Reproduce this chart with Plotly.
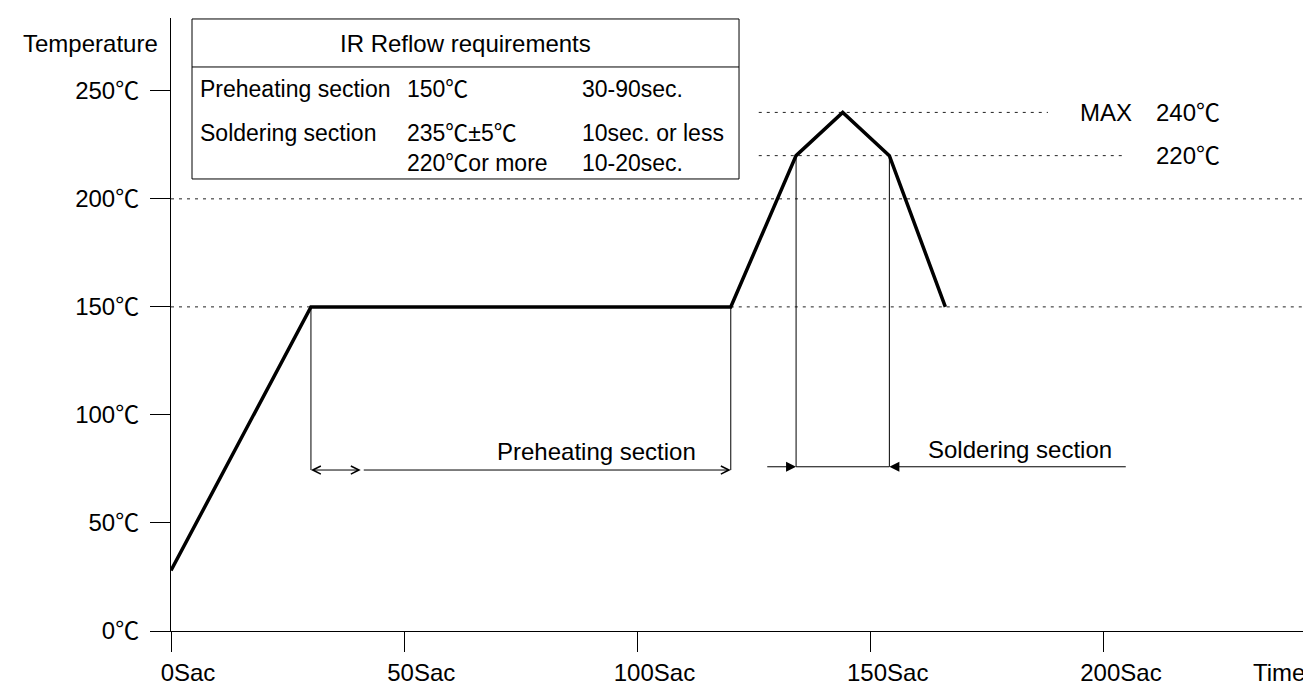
import plotly.graph_objects as go

# ---------------- data ----------------
# reflow temperature profile (time in s, temperature in deg C)
time_s = [0, 30, 120, 134, 144, 154, 166]
temp_c = [28, 150, 150, 220, 240, 220, 150]

# axis ticks
x_tickvals = [0, 50, 100, 150, 200]
x_ticktext = ["0Sac", "50Sac", "100Sac", "150Sac", "200Sac"]
y_tickvals = [0, 50, 100, 150, 200, 250]
y_ticktext = ["0℃", "50℃", "100℃", "150℃", "200℃", "250℃"]

# dotted guide lines: level, start time, end time
guide_level = [150, 150, 200, 220, 240]
guide_start = [0, 120, 0, 126, 126]
guide_end = [30, 246, 246, 204, 188]

# section markers
preheat_bounds = [30, 120]
preheat_inner = 41
preheat_level = 74.5
solder_bounds = [134, 154]
solder_tails = [127.5, 205]
solder_level = 76

# right-side labels
max_label = "MAX"
peak_label = "240℃"
limit_label = "220℃"

# requirements table
table_title = "IR Reflow requirements"
table_col1 = ["Preheating section", "Soldering section"]
table_col2 = ["150℃", "235℃±5℃<br>220℃or more"]
table_col3 = ["30-90sec.", "10sec. or less<br>10-20sec."]

FONT = "Liberation Sans, Arial, Helvetica, Noto Sans CJK JP, sans-serif"
X_MAX = 246.1
Y_MAX = 283.7

fig = go.Figure()

# dotted guides
gx, gy = [], []
for lv, s, e in zip(guide_level, guide_start, guide_end):
    gx += [s, e, None]
    gy += [lv, lv, None]
fig.add_trace(go.Scatter(x=gx, y=gy, mode="lines",
                         line=dict(color="#222222", width=1, dash="3px,5px"),
                         hoverinfo="skip"))

# thin vertical section lines
vx, vy = [], []
for t in preheat_bounds:
    lv = temp_c[time_s.index(t)]
    vx += [t, t, None]
    vy += [lv, preheat_level, None]
for t in solder_bounds:
    lv = temp_c[time_s.index(t)]
    vx += [t, t, None]
    vy += [lv, solder_level, None]
# soldering section base line
vx += [solder_bounds[0], solder_bounds[1], None]
vy += [solder_level, solder_level, None]
fig.add_trace(go.Scatter(x=vx, y=vy, mode="lines",
                         line=dict(color="black", width=1), hoverinfo="skip"))

# profile
fig.add_trace(go.Scatter(x=time_s, y=temp_c, mode="lines",
                         line=dict(color="black", width=3.5),
                         hoverinfo="skip"))

ann = []
# preheating arrows (open heads)
ann.append(dict(x=preheat_bounds[0], y=preheat_level, ax=preheat_inner, ay=preheat_level,
                xref="x", yref="y", axref="x", ayref="y", text="", showarrow=True,
                arrowside="end+start", arrowhead=5, startarrowhead=5,
                arrowsize=1.6, startarrowsize=1.6, arrowwidth=1, arrowcolor="black",
                standoff=0, startstandoff=0))
ann.append(dict(x=preheat_bounds[1], y=preheat_level, ax=preheat_inner, ay=preheat_level,
                xref="x", yref="y", axref="x", ayref="y", text="", showarrow=True,
                arrowhead=5, arrowsize=1.6, arrowwidth=1, arrowcolor="black",
                standoff=0))
# soldering arrows (filled heads)
for head, tail in zip(solder_bounds, solder_tails):
    ann.append(dict(x=head, y=solder_level, ax=tail, ay=solder_level,
                    xref="x", yref="y", axref="x", ayref="y", text="", showarrow=True,
                    arrowhead=2, arrowsize=2, arrowwidth=1, arrowcolor="black",
                    standoff=0))

# section texts
ann.append(dict(x=91.3, y=83, xref="x", yref="y", text="Preheating section",
                showarrow=False, xanchor="center", yanchor="middle"))
ann.append(dict(x=182, y=84, xref="x", yref="y", text="Soldering section",
                showarrow=False, xanchor="center", yanchor="middle"))
# right labels
ann.append(dict(x=194.4, y=guide_level[4], xref="x", yref="y", text=max_label,
                showarrow=False, xanchor="left", yanchor="middle"))
ann.append(dict(x=225.3, y=guide_level[4], xref="x", yref="y", text=peak_label,
                showarrow=False, xanchor="right", yanchor="middle"))
ann.append(dict(x=225.3, y=guide_level[3], xref="x", yref="y", text=limit_label,
                showarrow=False, xanchor="right", yanchor="middle"))

# axis titles
ann.append(dict(x=-0.0096, y=0.959, xref="paper", yref="paper", text="Temperature",
                showarrow=False, xanchor="right", yanchor="middle"))
ann.append(dict(x=0.9652, y=-0.068, xref="paper", yref="paper", text="Time",
                showarrow=False, xanchor="center", yanchor="middle"))

# table
tx0, tx1 = 0.0183, 0.4948
ty0, ty1, tdiv = 0.7374, 0.9984, 0.9201
shapes = [
    dict(type="rect", xref="paper", yref="paper", x0=tx0, x1=tx1, y0=ty0, y1=ty1,
         line=dict(color="black", width=1), fillcolor="white", layer="above"),
    dict(type="line", xref="paper", yref="paper", x0=tx0, x1=tx1, y0=tdiv, y1=tdiv,
         line=dict(color="black", width=1), layer="above"),
]
ann.append(dict(x=(tx0 + tx1) / 2, y=0.9592, xref="paper", yref="paper", text=table_title,
                showarrow=False, xanchor="center", yanchor="middle"))
row1_y = 0.8842
row2_top = 0.8369
col_x = [0.0235, 0.2038, 0.3563]
for col, cx in zip([table_col1, table_col2, table_col3], col_x):
    ann.append(dict(x=cx, y=row1_y, xref="paper", yref="paper", text=col[0],
                    showarrow=False, xanchor="left", yanchor="middle",
                    font=dict(size=23)))
    ann.append(dict(x=cx, y=row2_top, xref="paper", yref="paper", text=col[1],
                    showarrow=False, xanchor="left", yanchor="top", align="left",
                    font=dict(size=23)))

fig.update_layout(
    width=1311, height=688,
    margin=dict(l=163, r=0, t=10, b=65),
    paper_bgcolor="white", plot_bgcolor="white",
    showlegend=False,
    font=dict(family=FONT, size=24, color="black"),
    annotations=ann, shapes=shapes,
    xaxis=dict(range=[0, X_MAX], showline=True, linecolor="black", linewidth=1,
               ticks="outside", ticklen=20, tickwidth=1, tickcolor="black",
               tickvals=x_tickvals, ticktext=x_ticktext, showgrid=False,
               zeroline=False, ticklabelshift=17, ticklabelstandoff=0),
    yaxis=dict(range=[0, Y_MAX], showline=True, linecolor="black", linewidth=1,
               ticks="outside", ticklen=20, tickwidth=1, tickcolor="black",
               tickvals=y_tickvals, ticktext=y_ticktext, showgrid=False,
               zeroline=False, ticklabelstandoff=6),
)

fig.write_html("out.html")
